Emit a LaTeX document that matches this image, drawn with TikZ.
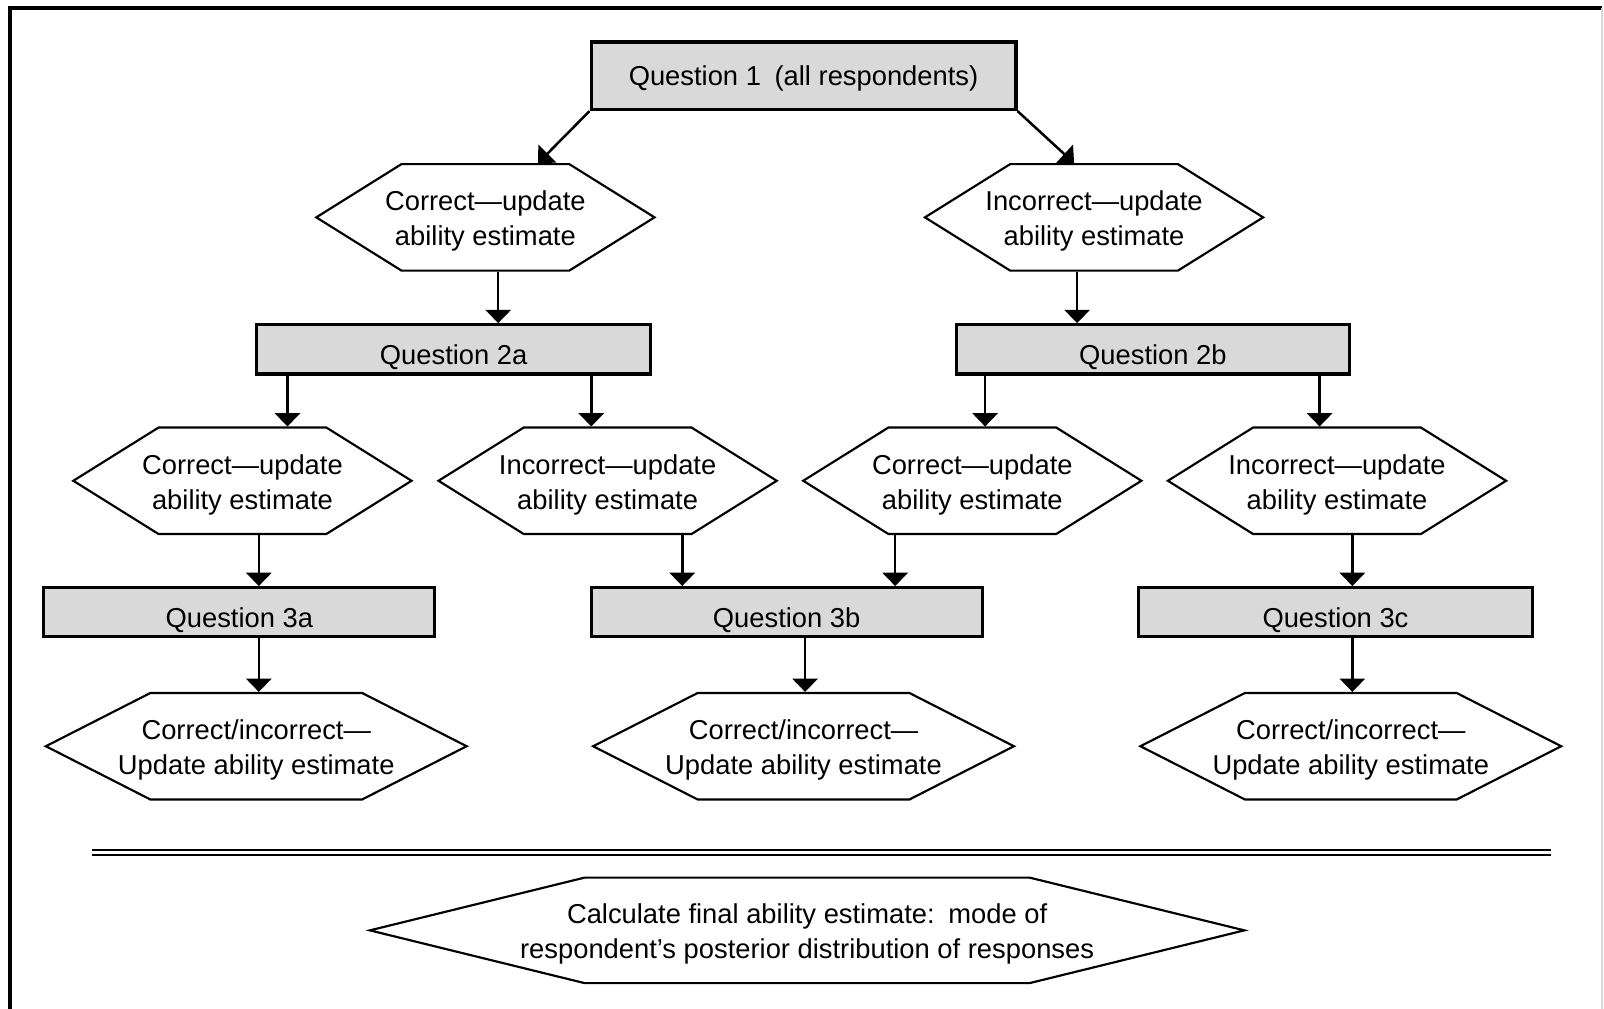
\documentclass[tikz,border=0pt]{standalone}
\usepackage{fontspec}
\setmainfont{Liberation Sans}
\usepackage{xcolor}
\usetikzlibrary{shapes.symbols,arrows.meta}
\definecolor{boxgray}{RGB}{217,217,217}
\newcommand{\hexline}[1]{\makebox[0pt]{#1}}

\begin{document}
\begin{tikzpicture}[x=0.01cm,y=-0.01cm,
    qbox/.style={rectangle,draw,line width=0.9pt,fill=boxgray,inner sep=0pt,minimum height=0.48cm,text height=9pt,text depth=0.4pt},
    hexa/.style={signal,signal to=east and west,draw,line width=0.6pt,fill=white,inner ysep=0pt,align=center,minimum height=1.04cm,text height=17.4pt},
    arr/.style={line width=0.7pt,-{Triangle[width=7pt,length=3.7pt]}},
    font=\fontsize{7.6}{9.7}\selectfont]
            \useasboundingbox (0,0) rectangle (1568,986);
            \draw[line width=1pt] (10,986) -- (10,8) -- (1566,8);
            \draw[gray!30] (1566,8) -- (1566,986);

            \node (q1) at (785.5,74) [qbox,minimum width=4.15cm,minimum height=0.66cm,text height=5.8pt] {Question 1\enspace(all respondents)};

            \node (c1) at (474.5,212.5) [hexa,inner xsep=0.82cm,signal pointer angle=64] {\hexline{Correct—update}\\\hexline{ability estimate}};
            \node (i1) at (1069.5,212.5) [hexa,inner xsep=0.82cm,signal pointer angle=64] {\hexline{Incorrect—update}\\\hexline{ability estimate}};

            \node (q2a) at (443.5,341.5) [qbox,minimum width=3.85cm] {Question 2a};
            \node (q2b) at (1127,341.5) [qbox,minimum width=3.84cm] {Question 2b};

            \node (c2a) at (237,470) [hexa,inner xsep=0.82cm,signal pointer angle=64] {\hexline{Correct—update}\\\hexline{ability estimate}};
            \node (i2a) at (594,470) [hexa,inner xsep=0.82cm,signal pointer angle=64] {\hexline{Incorrect—update}\\\hexline{ability estimate}};
            \node (c2b) at (950.5,470) [hexa,inner xsep=0.82cm,signal pointer angle=64] {\hexline{Correct—update}\\\hexline{ability estimate}};
            \node (i2b) at (1307,470) [hexa,inner xsep=0.82cm,signal pointer angle=64] {\hexline{Incorrect—update}\\\hexline{ability estimate}};

            \node (q3a) at (234,598.5) [qbox,minimum width=3.82cm] {Question 3a};
            \node (q3b) at (769,598.5) [qbox,minimum width=3.82cm] {Question 3b};
            \node (q3c) at (1305.5,598.5) [qbox,minimum width=3.85cm] {Question 3c};

            \node (u3a) at (250.5,729.5) [hexa,inner xsep=1.035cm,signal pointer angle=54] {\hexline{Correct/incorrect—}\\\hexline{Update ability estimate}};
            \node (u3b) at (785.5,729.5) [hexa,inner xsep=1.035cm,signal pointer angle=54] {\hexline{Correct/incorrect—}\\\hexline{Update ability estimate}};
            \node (u3c) at (1320.5,729.5) [hexa,inner xsep=1.035cm,signal pointer angle=54] {\hexline{Correct/incorrect—}\\\hexline{Update ability estimate}};

            \draw[line width=0.7pt] (90,831) -- (1516,831) (90,836) -- (1516,836);

            \node (fin) at (789,909.5) [hexa,inner xsep=2.175cm,minimum height=1.03cm,signal pointer angle=27.6] {\hexline{Calculate final ability estimate:\enspace mode of}\\\hexline{respondent’s posterior distribution of responses}};

            \draw[arr] (q1.south west) -- ([xshift=0.515cm]c1.north);
            \draw[arr] (q1.south east) -- ([xshift=-0.195cm]i1.north);
            \draw[arr] ([xshift=0.435cm]q2a.north |- c1.south) -- ([xshift=0.435cm]q2a.north);
            \draw[arr] ([xshift=-0.74cm]q2b.north |- i1.south) -- ([xshift=-0.74cm]q2b.north);

            \draw[arr] ([xshift=0.44cm]c2a.north |- q2a.south) -- ([xshift=0.44cm]c2a.north);
            \draw[arr] ([xshift=-0.16cm]i2a.north |- q2a.south) -- ([xshift=-0.16cm]i2a.north);
            \draw[arr] ([xshift=0.125cm]c2b.north |- q2b.south) -- ([xshift=0.125cm]c2b.north);
            \draw[arr] ([xshift=-0.17cm]i2b.north |- q2b.south) -- ([xshift=-0.17cm]i2b.north);

            \draw[arr] ([xshift=0.19cm]q3a.north |- c2a.south) -- ([xshift=0.19cm]q3a.north);
            \draw[arr] ([xshift=-1.02cm]q3b.north |- i2a.south) -- ([xshift=-1.02cm]q3b.north);
            \draw[arr] ([xshift=1.06cm]q3b.north |- c2b.south) -- ([xshift=1.06cm]q3b.north);
            \draw[arr] ([xshift=0.165cm]q3c.north |- i2b.south) -- ([xshift=0.165cm]q3c.north);

            \draw[arr] ([xshift=0.025cm]u3a.north |- q3a.south) -- ([xshift=0.025cm]u3a.north);
            \draw[arr] ([xshift=0.015cm]u3b.north |- q3b.south) -- ([xshift=0.015cm]u3b.north);
            \draw[arr] ([xshift=0.015cm]u3c.north |- q3c.south) -- ([xshift=0.015cm]u3c.north);

        \end{tikzpicture}
\end{document}
